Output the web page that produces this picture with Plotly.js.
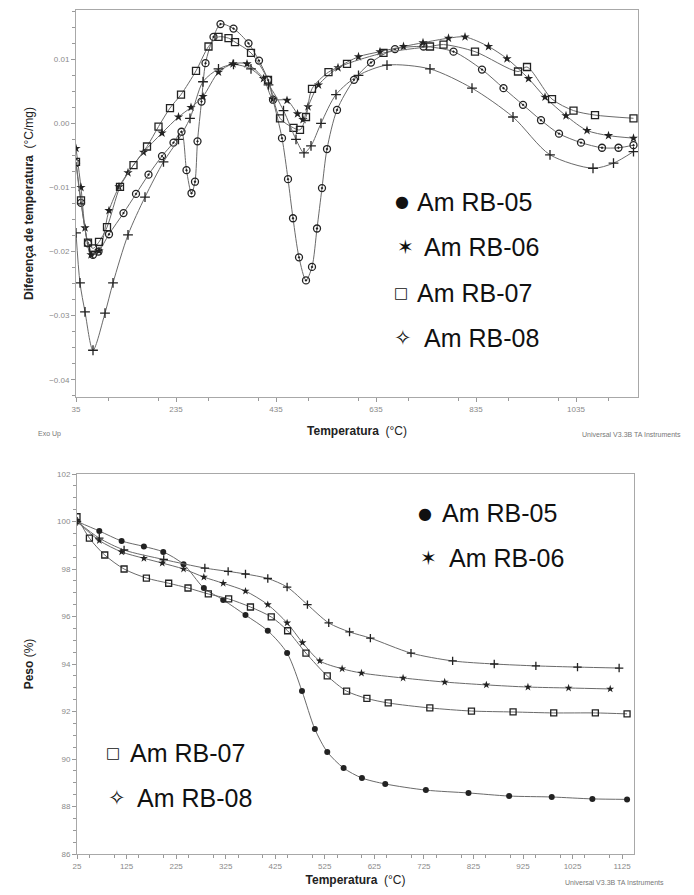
<!DOCTYPE html>
<html><head><meta charset="utf-8">
<script src="https://cdn.plot.ly/plotly-3.0.1.min.js"></script>
<style>html,body{margin:0;padding:0;background:#fff}#chart{width:694px;height:895px}</style>
</head><body><div id="chart"></div><script>
// ---- DTA (top): temperature (°C) and temperature difference (°C/mg)
const dtaT05 = [35,45,59,69,80,101,130,155,180,207,230,246,256,266,273,278,286,294,310,324,350,380,401,419,429,447,459,469,481,495,507,517,527,537,557,591,625,673,730,790,847,890,929,965,1001,1045,1087,1120,1150];
const dtaV05 = [-0.0062,-0.0124,-0.0187,-0.0205,-0.0200,-0.0173,-0.0140,-0.0110,-0.0080,-0.0051,-0.0030,-0.0013,-0.0073,-0.0109,-0.0091,-0.0028,0.0034,0.0094,0.0135,0.0155,0.0148,0.0125,0.0098,0.0068,0.0037,-0.0023,-0.0087,-0.0148,-0.0209,-0.0245,-0.0224,-0.0164,-0.0101,-0.0040,0.0021,0.0068,0.0095,0.0116,0.0120,0.0112,0.0084,0.0055,0.0029,0.0005,-0.0016,-0.0030,-0.0038,-0.0038,-0.0034];
const dtaT06 = [35,45,53,65,81,101,121,139,170,207,240,265,289,320,349,377,410,429,457,478,489,499,520,559,600,643,690,729,780,813,860,897,940,973,1015,1057,1100,1150];
const dtaV06 = [-0.0039,-0.0100,-0.0163,-0.0205,-0.0199,-0.0136,-0.0099,-0.0077,-0.0045,-0.0015,0.0010,0.0025,0.0042,0.0080,0.0093,0.0093,0.0070,0.0038,0.0036,0.0015,0.0006,0.0026,0.0060,0.0087,0.0104,0.0112,0.0120,0.0126,0.0133,0.0135,0.0120,0.0101,0.0070,0.0041,0.0012,-0.0011,-0.0019,-0.0023];
const dtaT07 = [35,45,59,69,81,97,123,150,177,200,223,245,275,300,320,340,353,385,419,443,470,483,495,507,540,577,650,743,770,833,919,937,987,1030,1073,1150];
const dtaV07 = [-0.0060,-0.0120,-0.0186,-0.0195,-0.0185,-0.0162,-0.0099,-0.0065,-0.0036,-0.0005,0.0024,0.0045,0.0082,0.0120,0.0135,0.0133,0.0127,0.0110,0.0068,0.0008,-0.0007,-0.0010,0.0010,0.0054,0.0080,0.0093,0.0110,0.0120,0.0123,0.0112,0.0081,0.0088,0.0038,0.0020,0.0013,0.0008];
const dtaT08 = [35,43,53,69,93,109,139,173,210,240,263,289,320,350,385,420,450,475,491,505,525,555,600,657,743,827,909,983,1069,1110,1150];
const dtaV08 = [-0.0171,-0.0249,-0.0294,-0.0354,-0.0296,-0.0249,-0.0174,-0.0115,-0.0060,-0.0025,0.0008,0.0065,0.0085,0.0092,0.0085,0.0060,0.0020,-0.0025,-0.0046,-0.0035,0.0000,0.0045,0.0075,0.0091,0.0085,0.0055,0.0010,-0.0049,-0.0070,-0.0062,-0.0044];

// ---- TGA (bottom): temperature (°C) and mass (%)
const tgaT05 = [25,70,115,160,199,240,281,320,365,410,449,479,505,530,563,600,647,729,815,897,983,1065,1135];
const tgaP05 = [100.0,99.6,99.18,98.95,98.72,98.2,97.2,96.7,96.06,95.4,94.46,92.86,91.26,90.3,89.62,89.2,88.95,88.69,88.57,88.44,88.40,88.32,88.30];
const tgaT06 = [25,70,115,160,197,240,281,320,365,410,449,480,515,560,599,683,767,851,935,1017,1101];
const tgaP06 = [100.0,99.2,98.72,98.45,98.25,98.0,97.66,97.4,97.07,96.5,95.73,94.9,94.13,93.8,93.62,93.41,93.24,93.12,93.03,92.99,92.95];
const tgaT07 = [25,50,81,120,165,210,249,290,331,375,417,450,487,530,569,610,653,737,821,905,987,1071,1135];
const tgaP07 = [100.2,99.3,98.59,98.0,97.62,97.4,97.2,96.95,96.74,96.4,95.98,95.4,94.46,93.5,92.86,92.55,92.36,92.15,92.02,91.98,91.94,91.94,91.90];
const tgaT08 = [25,70,120,200,283,330,365,410,449,490,533,575,617,699,783,867,951,1035,1119];
const tgaP08 = [100.0,99.3,98.8,98.4,98.04,97.9,97.79,97.6,97.24,96.5,95.73,95.35,95.09,94.46,94.13,94.00,93.92,93.87,93.83];

const seriesNames = ['Am RB-05','Am RB-06','Am RB-07','Am RB-08'];
const xTitle = 'Temperatura';
const dtaYTitle = 'Diferença de temperatura';
const tgaYTitle = 'Peso';
const footText = 'Universal V3.3B TA Instruments';

const lineCol = '#6a6a6a', mkCol = '#222';
function tr(x, y, name, sym, xa, ya, size){
  const open = sym.indexOf('open') >= 0;
  return {x:x, y:y, name:name, xaxis:xa, yaxis:ya, type:'scatter', mode:'lines+markers',
    line:{color:lineCol, width:1, shape:'spline', smoothing:0.8},
    marker:{symbol:sym, size:size, color: mkCol, line:{color:mkCol, width: open?1.3:0}},
    showlegend:false, hoverinfo:'x+y'};
}
const data = [
  tr(dtaT05, dtaV05, seriesNames[0], 'circle-open-dot', 'x', 'y', 7),
  tr(dtaT06, dtaV06, seriesNames[1], 'star', 'x', 'y', 7),
  tr(dtaT07, dtaV07, seriesNames[2], 'square-open', 'x', 'y', 7),
  tr(dtaT08, dtaV08, seriesNames[3], 'cross-thin-open', 'x', 'y', 7),
  tr(tgaT05, tgaP05, seriesNames[0], 'circle', 'x2', 'y2', 6),
  tr(tgaT06, tgaP06, seriesNames[1], 'star', 'x2', 'y2', 6),
  tr(tgaT07, tgaP07, seriesNames[2], 'square-open', 'x2', 'y2', 6),
  tr(tgaT08, tgaP08, seriesNames[3], 'cross-thin-open', 'x2', 'y2', 6)
];

const W = 694, H = 895;
const px = v => v / W, py = v => 1 - v / H;
const tf = {family:'Arial, Liberation Sans, sans-serif', size:8, color:'#8a8a8a'};
const base = {showline:true, linecolor:'#a8a8a8', linewidth:1, mirror:true, ticks:'outside', ticklen:4,
  tickcolor:'#999', tickwidth:1, tickfont:tf, showgrid:false, zeroline:false, fixedrange:true};
const tfont = {family:'Arial, Liberation Sans, sans-serif', size:12, color:'#222'};

const layout = {
  width:W, height:H, margin:{l:0,r:0,t:0,b:0}, paper_bgcolor:'#fff', plot_bgcolor:'#fff',
  showlegend:false,
  xaxis: Object.assign({}, base, {domain:[px(76), px(638)], anchor:'y', range:[35,1159], tick0:35, dtick:200,
    minor:{dtick:100, ticks:'outside', ticklen:3, tickcolor:'#999'},
    title:{text:'<b>'+xTitle+'</b>  (°C)', font:tfont, standoff:14}}),
  yaxis: Object.assign({}, base, {domain:[py(397), py(10)], anchor:'x', range:[-0.0427,0.0177], tick0:0, dtick:0.01, tickformat:'.2f',
    minor:{dtick:0.0025, ticks:'outside', ticklen:3, tickcolor:'#999'},
    title:{text:'<b>'+dtaYTitle+'</b>  (°C/mg)', font:Object.assign({}, tfont, {size:12}), standoff:12}}),
  xaxis2: Object.assign({}, base, {domain:[px(77), px(634)], anchor:'y2', range:[25,1149], tick0:25, dtick:100,
    minor:{dtick:50, ticks:'outside', ticklen:3, tickcolor:'#999'},
    title:{text:'<b>'+xTitle+'</b>  (°C)', font:tfont, standoff:6}}),
  yaxis2: Object.assign({}, base, {domain:[py(854), py(474)], anchor:'x2', range:[86,102], tick0:86, dtick:2,
    minor:{dtick:0.5, ticks:'outside', ticklen:3, tickcolor:'#999'},
    title:{text:'<b>'+tgaYTitle+'</b> (%)', font:Object.assign({}, tfont, {size:12}), standoff:20}}),
  annotations: []
};

const legFont = {family:'Arial, Liberation Sans, sans-serif', size:25, color:'#111'};
const symFont = s => ({family:'DejaVu Sans, sans-serif', size:s, color:'#111'});
function legendItem(sym, symSize, sx, tx, yc, label){
  layout.annotations.push({xref:'paper', yref:'paper', x:px(sx), y:py(yc), xanchor:'center', yanchor:'middle', text:sym, showarrow:false, font:symFont(symSize)});
  layout.annotations.push({xref:'paper', yref:'paper', x:px(tx), y:py(yc), xanchor:'left', yanchor:'middle', text:label, showarrow:false, font:legFont});
}
legendItem('●', 16, 402, 415, 202, seriesNames[0]);
legendItem('✶', 20, 405, 422, 247, seriesNames[1]);
legendItem('□', 15, 401, 415, 293, seriesNames[2]);
legendItem('✧', 21, 403, 422, 338, seriesNames[3]);
legendItem('●', 16, 425, 440, 513, seriesNames[0]);
legendItem('✶', 20, 428, 447, 558, seriesNames[1]);
legendItem('□', 15, 113, 128, 753, seriesNames[2]);
legendItem('✧', 21, 117, 135, 798, seriesNames[3]);

const small = {family:'Arial, Liberation Sans, sans-serif', size:7, color:'#777'};
layout.annotations.push({xref:'paper', yref:'paper', x:px(36), y:py(434), xanchor:'left', yanchor:'middle', text:'Exo Up', showarrow:false, font:small});
layout.annotations.push({xref:'paper', yref:'paper', x:px(580), y:py(434), xanchor:'left', yanchor:'middle', text:footText, showarrow:false, font:small});
layout.annotations.push({xref:'paper', yref:'paper', x:px(563), y:py(882), xanchor:'left', yanchor:'middle', text:footText, showarrow:false, font:small});

Plotly.newPlot('chart', data, layout, {staticPlot:true, displayModeBar:false});
</script></body></html>
